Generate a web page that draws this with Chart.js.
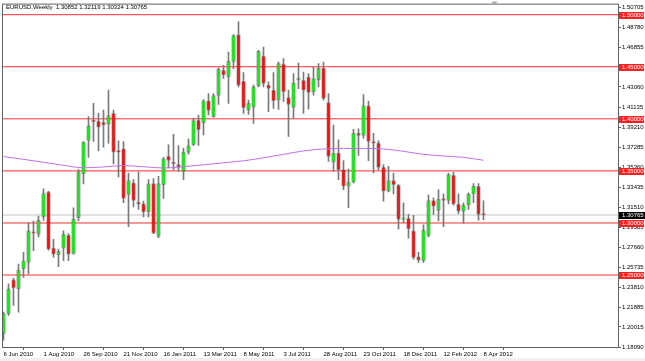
<!DOCTYPE html>
<html>
<head>
<meta charset="utf-8">
<script src="https://cdn.jsdelivr.net/npm/chart.js@4.4.0/dist/chart.umd.min.js"></script>
<style>
  html, body { margin: 0; padding: 0; background: #ffffff; }
  #wrap { width: 645px; height: 361px; }
</style>
</head>
<body>
<div id="wrap"><canvas id="c" width="645" height="361"></canvas></div>
<script>
// ---- Data (EURUSD weekly, 6 Jun 2010 .. 8 Apr 2012) ----
const symbolTitle = "EURUSD,Weekly  1.30852 1.32119 1.30324 1.30765";

const opens = [1.1938,1.2129,1.2453,1.2367,1.2558,1.2622,1.2914,1.2892,1.3057,1.3296,
  1.2758,1.2695,1.2758,1.2882,1.2707,1.3051,1.3474,1.3792,1.3989,1.3979,
  1.3967,1.3948,1.4053,1.3693,1.3712,1.3274,1.3385,1.3200,1.3184,1.3108,
  1.3378,1.2870,1.3369,1.3639,1.3582,1.3560,1.3496,1.3681,1.3750,1.3989,
  1.3964,1.4173,1.4021,1.4224,1.4466,1.4402,1.4552,1.4806,1.4361,1.4084,
  1.4113,1.4317,1.4603,1.4323,1.4275,1.4180,1.4527,1.4205,1.4110,1.4377,
  1.4370,1.4402,1.4259,1.4377,1.4488,1.4157,1.3585,1.3671,1.3512,1.3353,
  1.3391,1.3862,1.3840,1.4126,1.3776,1.3767,1.3534,1.3305,1.3407,1.3362,
  1.3035,1.3045,1.2924,1.2676,1.2637,1.2876,1.3216,1.3121,1.3235,1.3216,
  1.3458,1.3178,1.3114,1.3172,1.3280,1.3353,1.30852];
const highs = [1.2144,1.2415,1.2472,1.2606,1.2717,1.3003,1.3019,1.3067,1.3328,1.3305,
  1.2844,1.2749,1.2924,1.2898,1.3146,1.3512,1.3782,1.4021,1.4148,1.4053,
  1.4084,1.4275,1.4084,1.3789,1.3782,1.3480,1.3417,1.3490,1.3210,1.3417,
  1.3426,1.3448,1.3630,1.3750,1.3852,1.3744,1.3719,1.3808,1.4005,1.4037,
  1.4186,1.4243,1.4243,1.4491,1.4514,1.4641,1.4809,1.4933,1.4444,1.4180,
  1.4323,1.4657,1.4689,1.4355,1.4444,1.4546,1.4578,1.4275,1.4434,1.4536,
  1.4450,1.4434,1.4498,1.4530,1.4546,1.4243,1.3941,1.3798,1.3598,1.3518,
  1.3900,1.3903,1.4234,1.4170,1.3862,1.3789,1.3560,1.3544,1.3480,1.3369,
  1.3194,1.3083,1.3073,1.2717,1.2981,1.3267,1.3242,1.3321,1.3280,1.3480,
  1.3487,1.3280,1.3194,1.3289,1.3378,1.3378,1.32119];
const lows = [1.1874,1.2113,1.2208,1.2144,1.2478,1.2510,1.2733,1.2866,1.3025,1.2739,
  1.2669,1.2580,1.2637,1.2637,1.2701,1.3019,1.3375,1.3630,1.3782,1.3693,
  1.3728,1.3767,1.3566,1.3442,1.3194,1.2965,1.3153,1.3130,1.3057,1.3057,
  1.2898,1.2860,1.3235,1.3528,1.3512,1.3496,1.3417,1.3661,1.3744,1.3744,
  1.3846,1.4037,1.4015,1.4138,1.4387,1.4148,1.4482,1.4307,1.4053,1.4043,
  1.3957,1.4307,1.4307,1.4069,1.4100,1.4091,1.4164,1.3830,1.4005,1.4290,
  1.4053,1.4094,1.4227,1.4307,1.4180,1.3591,1.3496,1.3417,1.3321,1.3146,
  1.3385,1.3649,1.3814,1.3598,1.3480,1.3512,1.3210,1.3299,1.3280,1.2940,
  1.3003,1.2854,1.2653,1.2622,1.2622,1.2866,1.3083,1.3019,1.2965,1.3184,
  1.3172,1.3089,1.2997,1.3130,1.3194,1.3028,1.30324];
const closes = [1.2129,1.2367,1.2377,1.2548,1.2637,1.2924,1.2901,1.3025,1.3283,1.2749,
  1.2701,1.2727,1.2892,1.2701,1.3035,1.3490,1.3776,1.3932,1.3973,1.3919,
  1.3941,1.4031,1.3681,1.3681,1.3235,1.3407,1.3216,1.3181,1.3105,1.3375,
  1.2901,1.3378,1.3617,1.3601,1.3569,1.3537,1.3681,1.3744,1.3983,1.3894,
  1.4173,1.4081,1.4224,1.4475,1.4421,1.4552,1.4800,1.4323,1.4107,1.4148,
  1.4307,1.4648,1.4339,1.4291,1.4173,1.4530,1.4259,1.4138,1.4345,1.4393,
  1.4275,1.4253,1.4386,1.4488,1.4196,1.3639,1.3671,1.3512,1.3353,1.3391,
  1.3862,1.3840,1.4126,1.3782,1.3767,1.3534,1.3305,1.3407,1.3369,1.3035,
  1.3045,1.2946,1.2669,1.2644,1.2930,1.3216,1.3162,1.3226,1.3216,1.3464,
  1.3184,1.3114,1.3172,1.3280,1.3353,1.3083,1.30765];

// moving average line, read every 4 weeks
const maIdx  = [0,4,8,12,16,20,24,28,32,36,40,44,48,52,56,60,64,68,72,76,80,84,88,92,96];
const maVals = [1.3637,1.3611,1.3583,1.3554,1.3530,1.3538,1.3551,1.3540,1.3528,1.3540,
  1.3559,1.3578,1.3597,1.3626,1.3659,1.3692,1.3711,1.3716,1.3716,1.3711,
  1.3688,1.3659,1.3643,1.3630,1.3602];

// x-axis date labels (every 8 weeks)
const xTickIdx = [0,8,16,24,32,40,48,56,64,72,80,88,96];
const xTickLabels = ["6 Jun 2010","1 Aug 2010","26 Sep 2010","21 Nov 2010","16 Jan 2011",
  "13 Mar 2011","8 May 2011","3 Jul 2011","28 Aug 2011","23 Oct 2011","18 Dec 2011",
  "12 Feb 2012","8 Apr 2012"];

// price axis labels
const yTickLabels = ["1.50705","1.48780","1.46855","1.43060","1.41135","1.39210","1.37285",
  "1.35360","1.33435","1.31510","1.29585","1.27660","1.25735","1.23810","1.21885",
  "1.20015","1.18090"];

// horizontal level lines and current price
const levelLines = [1.50, 1.45, 1.40, 1.35, 1.30, 1.25];
const levelLabels = ["1.50000","1.45000","1.40000","1.35000","1.30000","1.25000"];
const currentPrice = 1.30765;
const currentLabel = "1.30765";

// ---- styling ----
const FONT = "Liberation Sans, Arial, sans-serif";
const UP = "#14ea14", DOWN = "#f21010";
const X_MIN = -0.3, X_MAX = 122.9;

const bodyData = opens.map((o, i) => ({ x: i, y: [Math.min(o, closes[i]), Math.max(o, closes[i])] }));
const wickData = opens.map((o, i) => ({ x: i, y: [lows[i], highs[i]] }));
const bodyColors = opens.map((o, i) => closes[i] >= o ? UP : DOWN);
const maData = maIdx.map((x, k) => ({ x: x, y: maVals[k] }));

const hLine = (v, color, order) => ({
  type: 'line', data: [{ x: X_MIN, y: v }, { x: X_MAX, y: v }],
  borderColor: color, borderWidth: 1, pointRadius: 0, order: order, clip: 0
});

const levelSets = levelLines.map(v => hLine(v, '#ff2e2e', 10));
const currentSet = hLine(currentPrice, '#c4c4c4', 11);

const overlay = {
  id: 'overlay',
  beforeDraw(chart) {
    const ctx = chart.ctx;
    ctx.save();
    ctx.fillStyle = '#ffffff';
    ctx.fillRect(0, 0, chart.width, chart.height);
    ctx.fillStyle = '#f0f0f0';
    ctx.fillRect(0, 358, chart.width, 3);
    ctx.restore();
  },
  afterDraw(chart) {
    const ctx = chart.ctx, a = chart.chartArea, y = chart.scales.y;
    ctx.save();
    // frame
    ctx.strokeStyle = '#606060';
    ctx.lineWidth = 1;
    ctx.strokeRect(a.left + 0.5, a.top - 0.5, a.right - a.left, a.bottom - a.top + 1);
    // level boxes
    ctx.font = '6px ' + FONT;
    ctx.textBaseline = 'middle';
    ctx.textAlign = 'left';
    levelLines.forEach((v, k) => {
      const p = Math.round(y.getPixelForValue(v));
      ctx.fillStyle = '#ff2020';
      ctx.fillRect(a.right + 1, p - 3, 25, 7);
      ctx.fillStyle = '#ffffff';
      ctx.fillText(levelLabels[k], a.right + 4, p + 0.5);
    });
    const cp = Math.round(y.getPixelForValue(currentPrice));
    ctx.fillStyle = '#000000';
    ctx.fillRect(a.right + 1, cp - 3, 26, 7);
    ctx.fillStyle = '#ffffff';
    ctx.fillText(currentLabel, a.right + 4, cp + 0.5);
    // title
    ctx.fillStyle = '#000000';
    ctx.font = '6px ' + FONT;
    ctx.fillText(symbolTitle, 6, 7.5);
    // chart shift marker
    ctx.fillStyle = '#a8a8a8';
    ctx.beginPath(); ctx.moveTo(491.5, 1.5); ctx.lineTo(497.5, 1.5); ctx.lineTo(494.5, 5); ctx.closePath(); ctx.fill();
    ctx.restore();
  }
};

new Chart(document.getElementById('c'), {
  data: {
    datasets: [
      { type: 'line', data: maData, borderColor: '#c070e8', borderWidth: 1, pointRadius: 0,
        cubicInterpolationMode: 'monotone', order: 0 },
      { type: 'bar', data: bodyData, backgroundColor: bodyColors, borderColor: 'rgba(0,0,0,0.25)',
        borderWidth: 1, borderSkipped: false,
        barThickness: 4, grouped: false, minBarLength: 1.5, order: 1 },
      { type: 'bar', data: wickData, backgroundColor: '#7a7a7a', borderWidth: 0,
        barThickness: 1, grouped: false, order: 2 },
      ...levelSets,
      currentSet
    ]
  },
  options: {
    responsive: false,
    animation: false,
    events: [],
    layout: { padding: { left: 2, top: 3, right: 0, bottom: 0 } },
    plugins: { legend: { display: false }, tooltip: { enabled: false }, title: { display: false } },
    scales: {
      x: {
        type: 'linear', min: X_MIN, max: X_MAX, position: 'bottom', offset: false,
        afterFit: s => { s.height = 14; },
        afterBuildTicks: s => { s.ticks = xTickIdx.map(v => ({ value: v })); },
        ticks: { autoSkip: false, maxRotation: 0, minRotation: 0, align: 'start', padding: 1,
          color: '#000000', font: { family: FONT, size: 6 },
          callback: (v, i) => xTickLabels[i] },
        grid: { drawOnChartArea: false, drawTicks: true, tickLength: 3, color: '#606060' },
        border: { display: false }
      },
      y: {
        type: 'linear', position: 'right', min: 1.1809, max: 1.5097,
        afterFit: s => { s.width = 27; },
        afterBuildTicks: s => { s.ticks = yTickLabels.map(t => ({ value: parseFloat(t) })); },
        ticks: { autoSkip: false, crossAlign: 'near', padding: 1, color: '#000000',
          font: { family: FONT, size: 6 },
          callback: (v, i) => yTickLabels[i] },
        grid: { drawOnChartArea: false, drawTicks: true, tickLength: 3, color: '#606060' },
        border: { display: false }
      }
    }
  },
  plugins: [overlay]
});
</script>
</body>
</html>
